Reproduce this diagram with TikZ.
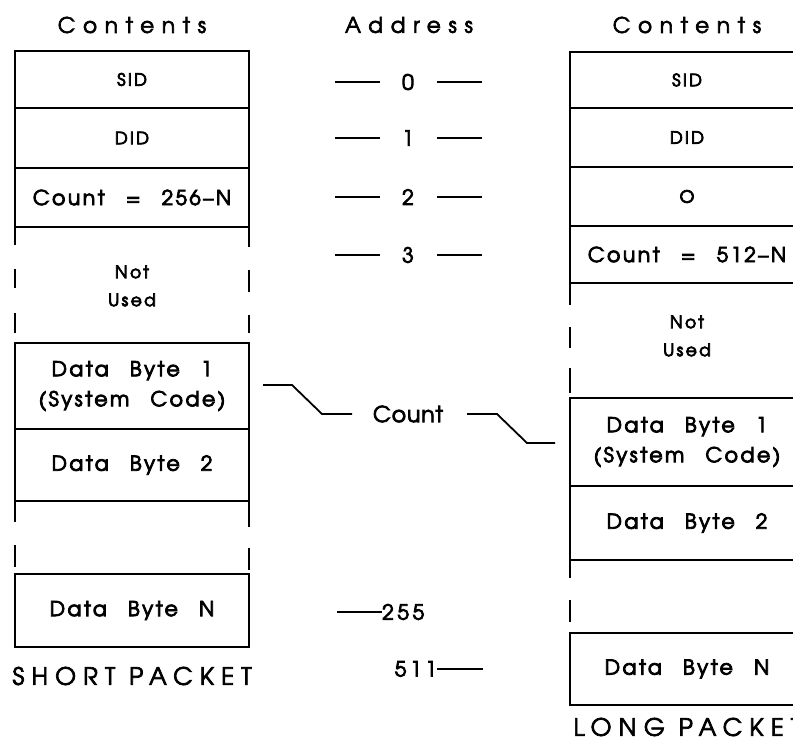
\documentclass[tikz,border=0pt]{standalone}
\usepackage{fontspec}
\setmainfont{texgyreadventor-regular.otf}
\newfontfamily\hdf{texgyreadventor-regular.otf}[LetterSpace=36,FakeBold=3,BoldFont=texgyreadventor-regular.otf]
\newfontfamily\bxf{texgyreadventor-regular.otf}[LetterSpace=12,WordSpace=2.6,FakeBold=4,BoldFont=texgyreadventor-regular.otf]
\newfontfamily\smf{texgyreadventor-regular.otf}[LetterSpace=14,FakeBold=4.5,BoldFont=texgyreadventor-regular.otf]
\newfontfamily\lbf{texgyreadventor-regular.otf}[LetterSpace=4,FakeBold=3.5,BoldFont=texgyreadventor-regular.otf]
\newfontfamily\dgf{texgyreadventor-regular.otf}[LetterSpace=17,FakeBold=3.5,BoldFont=texgyreadventor-regular.otf]
\newfontfamily\ftf{texgyreadventor-regular.otf}[LetterSpace=30,FakeBold=3,BoldFont=texgyreadventor-regular.otf]
\begin{document}
\begin{tikzpicture}[x=1pt,y=-1pt,
  box/.style={draw, line width=2.4pt, minimum width=234pt, inner sep=0pt, align=center},
  small/.style={font=\smf\bfseries\fontsize{17}{28}\selectfont},
  big/.style={font=\bxf\bfseries\fontsize{20.5}{30}\selectfont},
  head/.style={font=\hdf\bfseries\fontsize{21.5}{24}\selectfont},
  foot/.style={font=\ftf\bfseries\fontsize{24}{26}\selectfont},
  side/.style={line width=2.4pt},
  addr/.style={line width=1.8pt},
  lbl/.style={inner sep=1pt, font=\lbf\bfseries\fontsize{22}{24}\selectfont},
  dig/.style={inner sep=0pt, font=\dgf\bfseries\fontsize{21}{24}\selectfont}]
\clip (0,0) rectangle (793,746);
% headers
\node[head] (hleft) at (132,25) {Contents};
\node[head] (haddr) at (409,25) {Address};
\node[head] (hright) at (687,25) {Contents};
% left column (short packet)
\node[box,small,minimum height=57pt] (lsid) at (132,79.5) {SID};
\node[box,small,minimum height=60pt] (ldid) at (132,138) {DID};
\node[box,big,minimum height=59pt] (lcnt) at (132,197.5) {Count = 256\textendash N};
\node[small,align=center] (lnu) at (132,286) {Not\\Used};
\node[box,big,minimum height=86pt] (ldb1) at (132,386) {Data Byte 1\\(System Code)};
\node[box,big,minimum height=72pt] (ldb2) at (132,465) {Data Byte 2};
\node[box,big,minimum height=73pt] (ldbn) at (132,610.5) {Data Byte N};
\node[foot] (lfoot) at (132,676) {SHORT PACKET};
% left dashed sides
\draw[side] (15,227) -- (15,245) (15,269) -- (15,288) (15,313) -- (15,333);
\draw[side] (249,227) -- (249,247) (249,270) -- (249,292) (249,315) -- (249,333);
\draw[side] (15,501) -- (15,522) (15,545) -- (15,567);
\draw[side] (249,501) -- (249,527) (249,548) -- (249,570);
% right column (long packet)
\node[box,small,minimum height=56pt] (rsid) at (687,80) {SID};
\node[box,small,minimum height=59pt] (rdid) at (687,137.5) {DID};
\node[box,small,minimum height=59pt] (rzero) at (687,196.5) {O};
\node[box,big,minimum height=57pt] (rcnt) at (687,254.5) {Count = 512\textendash N};
\node[small,align=center] (rnu) at (687,336) {Not\\Used};
\node[box,big,minimum height=88pt] (rdb1) at (687,442) {Data Byte 1\\(System Code)};
\node[box,big,minimum height=74pt] (rdb2) at (687,523) {Data Byte 2};
\node[box,big,minimum height=72pt] (rdbn) at (687,669) {Data Byte N};
\node[foot,anchor=west] (rfoot) at (570,727) {LONG PACKET};
% right dashed sides
\draw[side] (570,283) -- (570,305) (570,327) -- (570,348) (570,368) -- (570,393);
\draw[side] (804,283) -- (804,398);
\draw[side] (570,560) -- (570,578) (570,600) -- (570,622);
% addresses
\node[dig] (a0) at (408,82) {0};
\node[dig] (a1) at (408,138) {1};
\node[dig] (a2) at (408,197) {2};
\node[dig] (a3) at (408,255) {3};
\foreach \n/\y in {a0/82,a1/138,a2/197,a3/255}{
  \draw[addr] (335,\y) -- (380,\y);
  \draw[addr] (437,\y) -- (482,\y);
}
\node[dig,anchor=west] (a255) at (382,612) {255};
\draw[addr] (337,612) -- (a255.west);
\node[dig,anchor=east] (a511) at (437,669) {511};
\draw[addr] (a511.east) -- (483,669);
% count connectors
\node[lbl] (cnt) at (408,414) {Count};
\coordinate (cl) at (263,385);
\coordinate (cr) at (555,443);
\draw[addr] (cl) -- (292,385) -- (322,414) -- (352,414);
\draw[addr] (467,414) -- (497,414) -- (527,443) -- (cr);
\end{tikzpicture}
\end{document}
